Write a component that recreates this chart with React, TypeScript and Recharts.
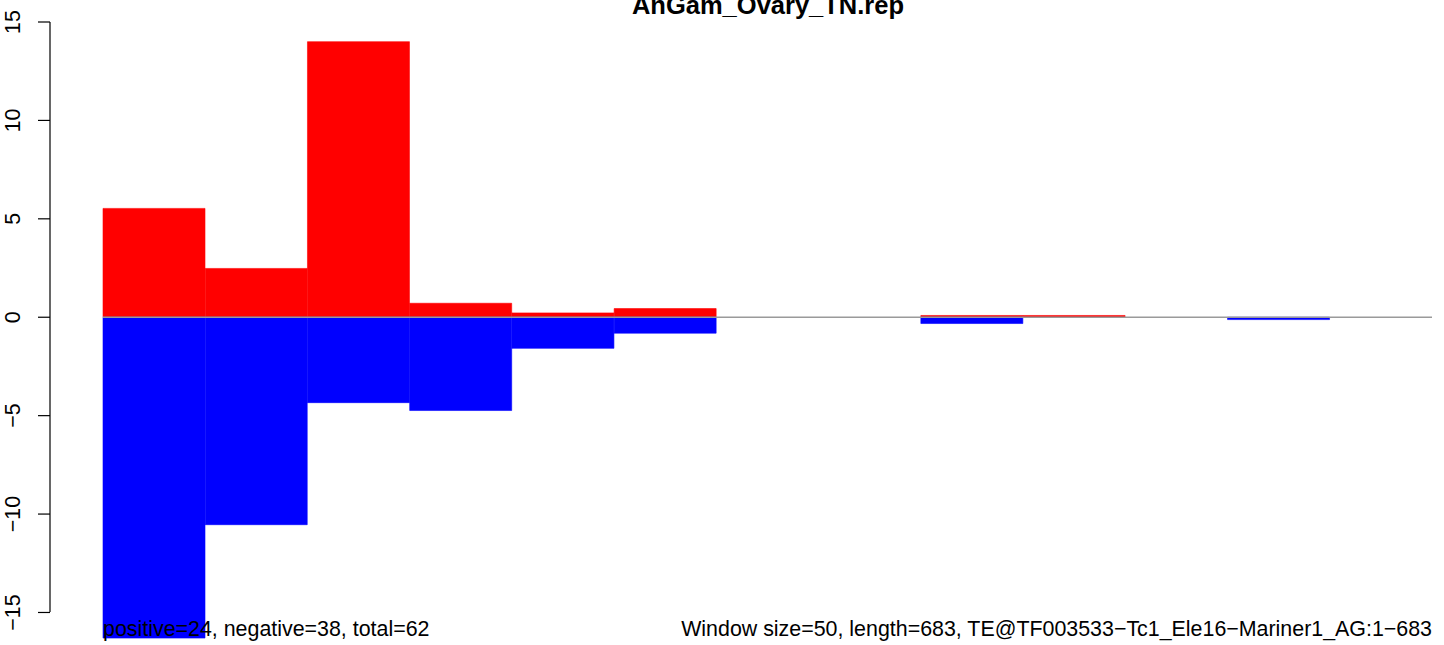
import { Bar, BarChart, ReferenceLine, XAxis, YAxis } from "recharts";

const bins = ["1", "2", "3", "4", "5", "6", "7", "8", "9", "10", "11", "12", "13"];
const positiveValues = [5.53, 2.48, 14.0, 0.71, 0.22, 0.44, 0, 0, 0.09, 0.09, 0, 0, 0];
const negativeValues = [-16.3, -10.54, -4.34, -4.74, -1.58, -0.81, 0, 0, -0.32, 0, 0, -0.12, 0];
const yTicks = [-15, -10, -5, 0, 5, 10, 15];

const titleText = "AnGam_Ovary_TN.rep";
const countsText = "positive=24, negative=38, total=62";
const infoText = "Window size=50, length=683, TE@TF003533\u2212Tc1_Ele16\u2212Mariner1_AG:1\u2212683";

const rows = bins.map((bin, i) => ({
  bin,
  positive: positiveValues[i],
  negative: negativeValues[i]
}));

const FONT = "'Liberation Sans', Arial, Helvetica, sans-serif";

function AxisLabel({ y, payload }: any) {
  const label = String(payload.value).replace("-", "\u2212");
  return (
    <text
      x={20}
      y={y}
      transform={`rotate(-90, 20, ${y})`}
      textAnchor="middle"
      fontSize={21.4}
      fontFamily={FONT}
      fill="#000"
    >
      {label}
    </text>
  );
}

export default function App() {
  return (
    <div style={{ position: "absolute", left: 0, top: 0, width: 1444, height: 645, background: "#fff" }}>
      <BarChart
        width={1444}
        height={645}
        data={rows}
        stackOffset="sign"
        barCategoryGap={0}
        barGap={0}
        margin={{ top: 22, right: 0, bottom: 3, left: 0 }}
      >
        <XAxis dataKey="bin" hide padding={{ left: 53, right: 12 }} />
        <YAxis
          width={50}
          domain={[-16.5, 15]}
          ticks={yTicks}
          interval={0}
          // R only draws the axis between the outer ticks (15 .. -15)
          axisLine={{ stroke: "#000", strokeWidth: 1.2, strokeDasharray: "590 200" }}
          tickLine={{ stroke: "#000", strokeWidth: 1.2 }}
          tickSize={12}
          tick={<AxisLabel />}
        />
        <ReferenceLine
          y={0}
          stroke="#9a9a9a"
          strokeWidth={1.5}
          strokeDasharray="0 53 1329 100"
        />
        {/* thin same-colour stroke hides antialiasing seams between adjacent bars */}
        <Bar dataKey="positive" stackId="s" fill="#ff0000" stroke="#ff0000" strokeWidth={0.6} isAnimationActive={false} />
        <Bar dataKey="negative" stackId="s" fill="#0000ff" stroke="#0000ff" strokeWidth={0.6} isAnimationActive={false} />
      </BarChart>
      <svg
        width={1444}
        height={645}
        style={{ position: "absolute", left: 0, top: 0, pointerEvents: "none" }}
      >
        <text x={768} y={14} textAnchor="middle" fontSize={25.5} fontWeight="bold" fontFamily={FONT} fill="#000">
          {titleText}
        </text>
        <text x={103} y={636} fontSize={21.4} fontFamily={FONT} fill="#000">
          {countsText}
        </text>
        <text x={1432} y={636} textAnchor="end" fontSize={21.4} fontFamily={FONT} fill="#000">
          {infoText}
        </text>
      </svg>
    </div>
  );
}
